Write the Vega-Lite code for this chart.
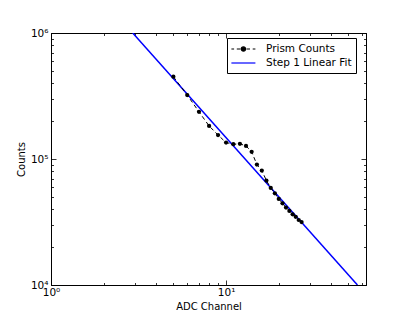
{
  "$schema": "https://vega.github.io/schema/vega-lite/v6.json",
  "width": 315,
  "height": 252,
  "autosize": "none",
  "padding": {"left": 51, "top": 33, "right": 41, "bottom": 41},
  "background": "white",
  "config": {
    "font": "DejaVu Sans",
    "view": {"stroke": "black", "strokeWidth": 1},
    "axis": {
      "labelFont": "DejaVu Sans", "labelFontSize": 10.5, "labelColor": "black",
      "titleFont": "DejaVu Sans", "titleFontSize": 10, "titleFontWeight": "normal", "titleColor": "black",
      "domainColor": "black", "domainWidth": 1, "tickColor": "black", "tickWidth": 0.8,
      "grid": false, "labelFlush": false, "labelOverlap": false
    },
    "legend": {"labelFont": "DejaVu Sans", "labelFontSize": 10.5, "labelColor": "black"}
  },
  "datasets": {
    "prism": [
      {"channel": 5, "counts": 450000, "series": "Prism Counts"},
      {"channel": 6, "counts": 322000, "series": "Prism Counts"},
      {"channel": 7, "counts": 237000, "series": "Prism Counts"},
      {"channel": 8, "counts": 183000, "series": "Prism Counts"},
      {"channel": 9, "counts": 155000, "series": "Prism Counts"},
      {"channel": 10, "counts": 135000, "series": "Prism Counts"},
      {"channel": 11, "counts": 131000, "series": "Prism Counts"},
      {"channel": 12, "counts": 132000, "series": "Prism Counts"},
      {"channel": 13, "counts": 127000, "series": "Prism Counts"},
      {"channel": 14, "counts": 114000, "series": "Prism Counts"},
      {"channel": 15, "counts": 90400, "series": "Prism Counts"},
      {"channel": 16, "counts": 81000, "series": "Prism Counts"},
      {"channel": 17, "counts": 67500, "series": "Prism Counts"},
      {"channel": 18, "counts": 58900, "series": "Prism Counts"},
      {"channel": 19, "counts": 53400, "series": "Prism Counts"},
      {"channel": 20, "counts": 48200, "series": "Prism Counts"},
      {"channel": 21, "counts": 44500, "series": "Prism Counts"},
      {"channel": 22, "counts": 41200, "series": "Prism Counts"},
      {"channel": 23, "counts": 38700, "series": "Prism Counts"},
      {"channel": 24, "counts": 36400, "series": "Prism Counts"},
      {"channel": 25, "counts": 34800, "series": "Prism Counts"},
      {"channel": 26, "counts": 32800, "series": "Prism Counts"},
      {"channel": 27, "counts": 31600, "series": "Prism Counts"}
    ],
    "fit": [
      {"channel": 2.93, "counts": 1000000, "series": "Step 1 Linear Fit"},
      {"channel": 56.3, "counts": 10000, "series": "Step 1 Linear Fit"}
    ]
  },
  "resolve": {"axis": {"x": "independent", "y": "independent"}},
  "layer": [
    {
      "data": {"name": "fit"},
      "mark": {"type": "line", "strokeWidth": 1.5, "clip": true},
      "encoding": {
        "x": {
          "field": "channel", "type": "quantitative",
          "scale": {"type": "log", "domain": [1, 63], "nice": false},
          "axis": {
            "orient": "bottom", "title": "ADC Channel", "titlePadding": 1,
            "values": [1,2,3,4,5,6,7,8,9,10,20,30,40,50,60],
            "labelExpr": "datum.value == 1 ? '10⁰' : datum.value == 10 ? '10¹' : ''",
            "tickSize": {"condition": {"test": "datum.value == 1 || datum.value == 10", "value": -5}, "value": -2.5},
            "labelPadding": 7
          }
        },
        "y": {
          "field": "counts", "type": "quantitative",
          "scale": {"type": "log", "domain": [10000, 1000000], "nice": false},
          "axis": {
            "orient": "left", "title": "Counts", "titlePadding": 4,
            "values": [10000,20000,30000,40000,50000,60000,70000,80000,90000,100000,200000,300000,400000,500000,600000,700000,800000,900000,1000000],
            "labelExpr": "datum.value == 10000 ? '10⁴' : datum.value == 100000 ? '10⁵' : datum.value == 1000000 ? '10⁶' : ''",
            "tickSize": {"condition": {"test": "datum.value == 10000 || datum.value == 100000 || datum.value == 1000000", "value": -5}, "value": -2.5},
            "labelPadding": 8
          }
        },
        "color": {
          "field": "series", "type": "nominal",
          "scale": {"domain": ["Prism Counts", "Step 1 Linear Fit"], "range": ["black", "blue"]},
          "legend": {
            "title": null, "orient": "none", "legendX": 176, "legendY": 5,
            "strokeColor": "black", "fillColor": "white", "padding": 4, "cornerRadius": 0,
            "symbolSize": 144, "symbolStrokeWidth": 1.2, "labelOffset": 21, "rowPadding": 1,
            "encode": {
              "symbols": {
                "update": {
                  "shape": {"signal": "datum.value === 'Prism Counts' ? 'M-1.1,0H-0.65M-0.2,0H0.4M1.4,0H2M2.45,0H2.9M0.55,0A0.35,0.35 0 1,1 1.25,0A0.35,0.35 0 1,1 0.55,0Z' : 'M-1.1,0H2.9'"},
                  "fill": {"signal": "datum.value === 'Prism Counts' ? 'black' : 'transparent'"},
                  "stroke": {"signal": "datum.value === 'Prism Counts' ? 'black' : 'blue'"},
                  "fillOpacity": {"value": 1}
                }
              }
            }
          }
        }
      }
    },
    {
      "data": {"name": "prism"},
      "mark": {"type": "line", "strokeWidth": 1, "strokeDash": [4, 3], "point": {"filled": true, "size": 18, "opacity": 1}},
      "encoding": {
        "x": {
          "field": "channel", "type": "quantitative",
          "scale": {"type": "log", "domain": [1, 63], "nice": false},
          "axis": {
            "orient": "top", "title": null, "labels": false,
            "values": [1,2,3,4,5,6,7,8,9,10,20,30,40,50,60],
            "tickSize": {"condition": {"test": "datum.value == 1 || datum.value == 10", "value": -5}, "value": -2.5}
          }
        },
        "y": {
          "field": "counts", "type": "quantitative",
          "scale": {"type": "log", "domain": [10000, 1000000], "nice": false},
          "axis": {
            "orient": "right", "title": null, "labels": false,
            "values": [10000,20000,30000,40000,50000,60000,70000,80000,90000,100000,200000,300000,400000,500000,600000,700000,800000,900000,1000000],
            "tickSize": {"condition": {"test": "datum.value == 10000 || datum.value == 100000 || datum.value == 1000000", "value": -5}, "value": -2.5}
          }
        },
        "color": {
          "field": "series", "type": "nominal",
          "scale": {"domain": ["Prism Counts", "Step 1 Linear Fit"], "range": ["black", "blue"]}
        }
      }
    }
  ]
}
